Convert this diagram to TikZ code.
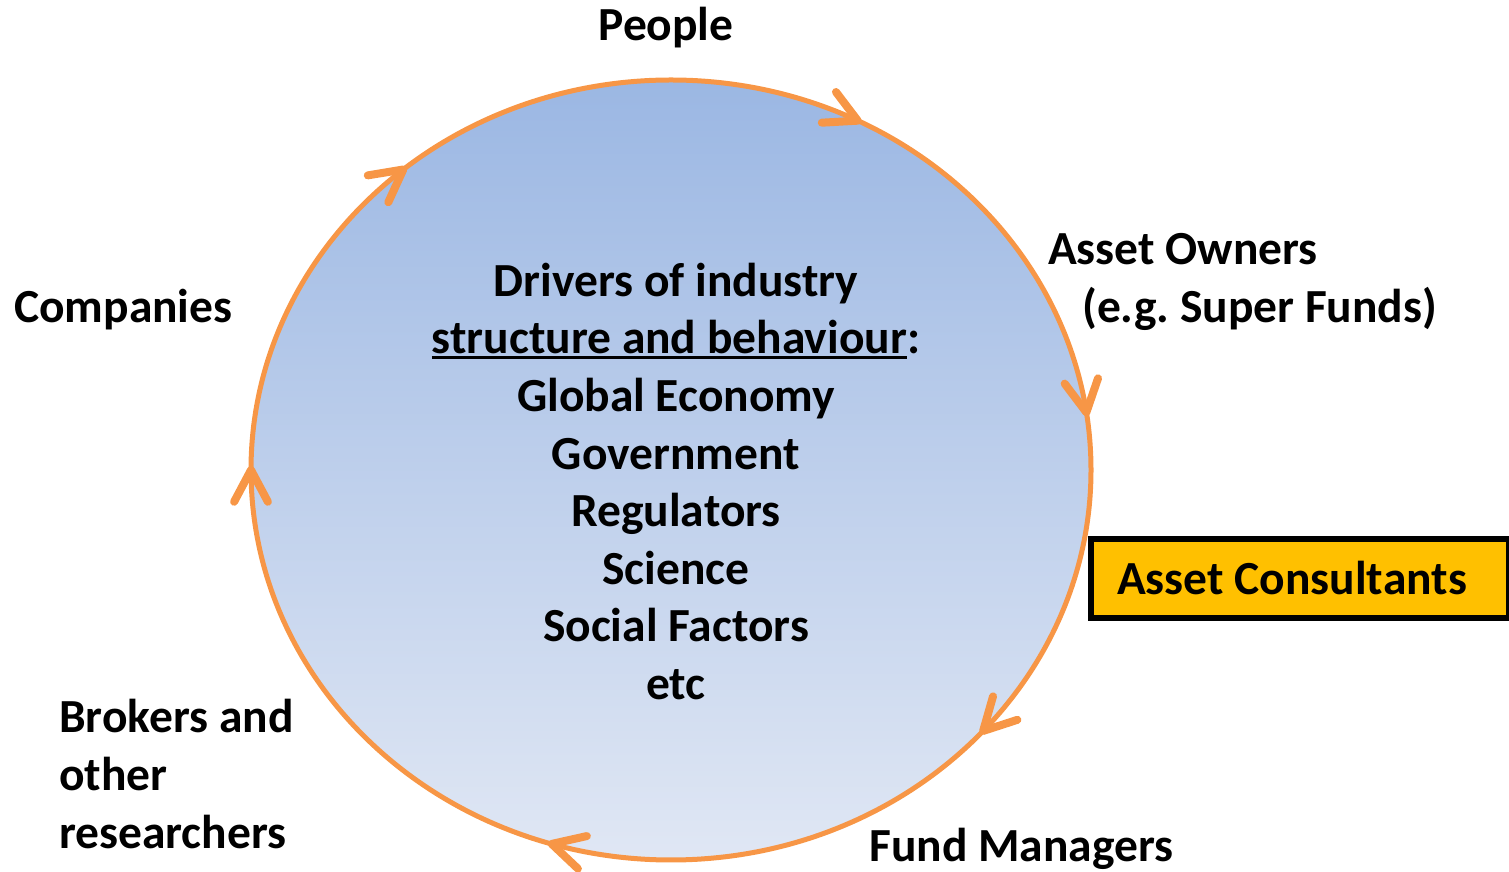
\documentclass[tikz,border=0pt]{standalone}
\usepackage{fontspec}
\setmainfont{Carlito}
\definecolor{ringorange}{RGB}{247,150,70}
\definecolor{shadetop}{RGB}{155,183,227}
\definecolor{shadebot}{RGB}{224,231,244}
\definecolor{boxgold}{RGB}{255,192,0}
\newcommand\myul[1]{\setbox0\hbox{#1}\rlap{\rule[-5pt]{\wd0}{2.8pt}}\box0}
\tikzset{
  lbl/.style={inner sep=0pt, font=\fontsize{47.5}{57.6}\selectfont\bfseries},
  ring/.style={draw=ringorange, line width=5pt},
  arm/.style={draw=ringorange, line width=8pt, line cap=round},
  consult/.style={draw=black, line width=6pt, fill=boxgold, inner sep=0pt,
    minimum width=418pt, minimum height=79pt, font=\fontsize{47.5}{57.6}\selectfont\bfseries}
}
\begin{document}
\begin{tikzpicture}[x=1pt,y=1pt]
\useasboundingbox (0,0) rectangle (1509,872);
% ring
\shade[top color=shadetop, bottom color=shadebot] (671,402) ellipse [x radius=420, y radius=390];
\draw[ring] (671,402) ellipse [x radius=420, y radius=390];
% arrowheads on the ring
\foreach \n/\t/\a in {1/63.6/-24.8, 2/129.6/37.4, 3/8.5/-80.9, 4/-42/-134, 5/-106.5/164.6, 6/180/90}{
  \coordinate (a\n) at ({671+420*cos(\t)},{402+390*sin(\t)});
  \draw[arm] (a\n) -- ++(\a+180+28:36) (a\n) -- ++(\a+180-28:36);
}
% labels
\node[lbl] (people) at (666,844) {People};
\node[lbl, align=center] (drivers) at (676,390.5) {Drivers of industry\\\myul{structure and behaviour}:\\Global Economy\\Government\\Regulators\\Science\\Social Factors\\etc};
\node[lbl, anchor=west, align=left] (owners) at (1048,590) {Asset Owners\\\hspace*{34pt}(e.g.\ Super Funds)};
\node[lbl, anchor=west] (companies) at (14,562) {Companies};
\node[lbl, anchor=west, align=left] (brokers) at (59,98) {Brokers and\\other\\researchers};
\node[lbl, anchor=west] (fund) at (869,23) {Fund Managers};
\node[consult, anchor=west] (consultants) at (1088,293.5) {\raisebox{-4pt}{Asset Consultants}\hspace*{16pt}};
\end{tikzpicture}
\end{document}
